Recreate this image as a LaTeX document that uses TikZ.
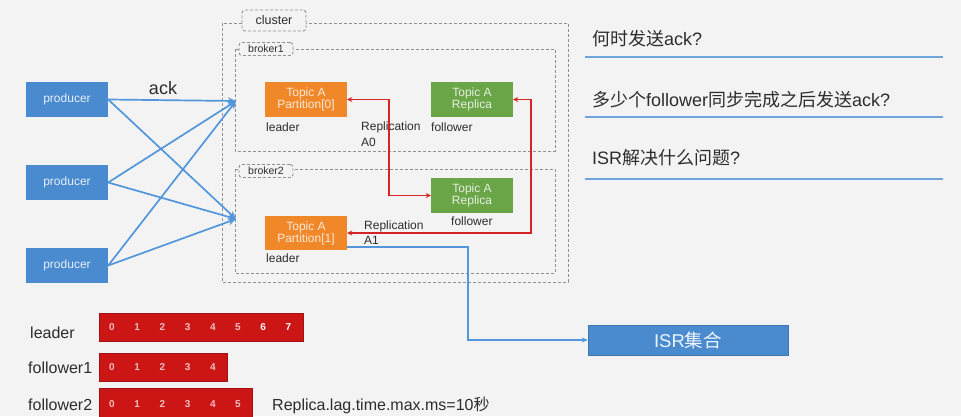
\documentclass[tikz,border=0pt]{standalone}
\usepackage{fontspec}
\setmainfont{Liberation Sans}
\newfontfamily\cjk{Noto Sans CJK SC}
\usetikzlibrary{arrows.meta,calc}
\newcommand{\myfs}[1]{\fontsize{#1}{#1}\selectfont}
\definecolor{bgc}{RGB}{243,243,243}
\definecolor{prodblue}{RGB}{74,139,207}
\definecolor{orangec}{RGB}{240,135,40}
\definecolor{greenc}{RGB}{106,166,72}
\definecolor{redbar}{RGB}{204,22,22}
\definecolor{redline}{RGB}{214,36,36}
\definecolor{blueline}{RGB}{82,150,220}
\definecolor{qline}{RGB}{110,165,220}
\definecolor{txt}{RGB}{45,45,45}
\definecolor{dashg}{RGB}{145,145,145}
\begin{document}
\begin{tikzpicture}[x=1pt,y=-1pt,
  prod/.style={fill=prodblue,minimum width=82pt,minimum height=35pt,inner sep=0pt,text=white!85!prodblue,font=\myfs{12}},
  topicbox/.style={minimum width=82pt,minimum height=35pt,inner sep=0pt,align=center,font=\myfs{12}},
  orangebox/.style={topicbox,fill=orangec,text=white!82!orangec},
  greenbox/.style={topicbox,fill=greenc,text=white!82!greenc},
  lbl/.style={anchor=west,inner sep=0pt,text=txt,font=\myfs{12}},
  dashbox/.style={draw=dashg,dash pattern=on 3pt off 2pt,line width=0.9pt},
  tagbox/.style={draw=dashg,dash pattern=on 3pt off 2pt,line width=0.9pt,rounded corners=3pt,fill=bgc,inner sep=0pt,text=txt},
  ackarrow/.style={draw=blueline,line width=1.7pt,-{Stealth[length=8pt,width=7pt]}},
  reparrow/.style={draw=redline,line width=1.7pt,{Stealth[length=5pt,width=5pt]}-{Stealth[length=5pt,width=5pt]}},
  bar/.style={fill=redbar,draw=redbar!80!black,line width=0.4pt},
  num/.style={text=white!72!redbar,font=\myfs{10}\bfseries,inner sep=0pt},
  big/.style={anchor=west,inner sep=0pt,text=txt,font=\myfs{16}},
  qtext/.style={anchor=west,inner sep=0pt,text=txt,font=\myfs{18}},
  qrule/.style={draw=qline,line width=2pt}
]
\useasboundingbox (0,0) rectangle (961,416);
\fill[bgc] (0,0) rectangle (961,416);

% cluster and brokers
\draw[dashbox] (222,23) rectangle (568,282);
\draw[dashbox] (235,49) rectangle (555,151);
\draw[dashbox] (235,169) rectangle (555,273);
\node[tagbox,minimum width=64pt,minimum height=21pt,font=\myfs{12.5}] (cl) at (274,20.5) {cluster};
\node[tagbox,minimum width=54pt,minimum height=13pt,font=\myfs{10.5}] (b1) at (266,49) {broker1};
\node[tagbox,minimum width=54pt,minimum height=13pt,font=\myfs{10.5}] (b2) at (266,171) {broker2};

% producers
\node[prod] (pr1) at (67,99.5) {producer};
\node[prod] (pr2) at (67,182.5) {producer};
\node[prod] (pr3) at (67,265.5) {producer};
\coordinate (t1) at (236,101);
\coordinate (t2) at (236,219);
\foreach \p in {pr1,pr2,pr3}{
  \draw[ackarrow] (\p.east) -- (t1);
  \draw[ackarrow] (\p.east) -- (t2);
}
\node[inner sep=0pt,text=txt,font=\myfs{18}] (ack) at (163,88) {ack};

% topic boxes
\node[orangebox] (p0) at (306,99.5) {Topic A\\Partition[0]};
\node[greenbox] (r1) at (472,99.5) {Topic A\\Replica};
\node[greenbox] (r2) at (472,195.5) {Topic A\\Replica};
\node[orangebox,minimum height=34pt] (p1) at (306,233) {Topic A\\Partition[1]};

\node[lbl] (l0) at (266,127) {leader};
\node[lbl] (f1) at (431,127) {follower};
\node[lbl] (ra0) at (361,127) {Replication};
\node[lbl] (a0) at (361,142) {A0};
\node[lbl] (f2) at (451,221) {follower};
\node[lbl] (ra1) at (364,226) {Replication};
\node[lbl] (a1) at (364,240) {A1};
\node[lbl] (l1) at (266,258) {leader};

% replication lines
\draw[reparrow] (p0.east) -- ++(42,0) |- (r2.west);
\draw[reparrow] (r1.east) -- ++(18,0) |- (p1.east);

% ISR
\node[fill=prodblue,draw=prodblue!85!black,line width=0.4pt,minimum width=200pt,minimum height=30pt,inner sep=0pt,text=white!90!prodblue,font=\myfs{18.5}] (isr) at (688,340) {ISR{\cjk 集合}};
\draw[draw=blueline,line width=1.7pt,-{Stealth[length=6pt,width=5pt]}] ([yshift=3pt]p1.south east) -- ++(121,0) |- (isr.west);

% questions
\node[qtext] (q1) at (592,39) {{\cjk 何时发送}ack?};
\node[qtext] (q2) at (592,100) {{\cjk 多少个}follower{\cjk 同步完成之后发送}ack?};
\node[qtext] (q3) at (592,158) {ISR{\cjk 解决什么问题}?};
\draw[qrule] (585,57) -- (943,57);
\draw[qrule] (585,117) -- (943,117);
\draw[qrule] (585,179) -- (943,179);

% logs
\node[big] (ll) at (30,333) {leader};
\node[big] (lf1) at (28,368) {follower1};
\node[big] (lf2) at (28,405) {follower2};
\draw[bar] (99,313) rectangle (303,341);
\draw[bar] (99,353) rectangle (227,381);
\draw[bar] (99,388) rectangle (252,420);
\foreach \i in {0,...,5}{\node[num] at (112+25.2*\i,327) {\i};}
\foreach \i in {6,7}{\node[num,text=white] at (112+25.2*\i,327) {\i};}
\foreach \i in {0,...,4}{\node[num] at (112+25.2*\i,367) {\i};}
\foreach \i in {0,...,5}{\node[num] at (112+25.2*\i,404) {\i};}
\node[big] (lag) at (272,405) {Replica.lag.time.max.ms=10{\cjk 秒}};
\end{tikzpicture}
\end{document}
